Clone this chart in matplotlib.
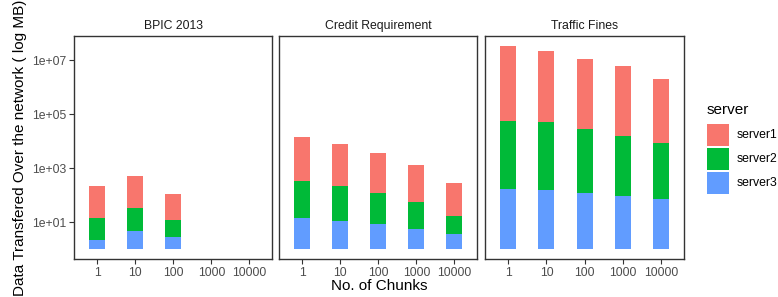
import numpy as np
import matplotlib
matplotlib.use('Agg')
import matplotlib.pyplot as plt
from matplotlib.patches import Rectangle

plt.rcParams['font.family'] = ['Liberation Sans', 'DejaVu Sans']

# ---- data (MB per server, as passed to a log-scaled stacked bar) ----
chunks = ["1", "10", "100", "1000", "10000"]
datasets = ["BPIC 2013", "Credit Requirement", "Traffic Fines"]
servers = ["server1", "server2", "server3"]
colors = ["#F8766D", "#00BA38", "#619CFF"]

bpic_server1 = [15.1, 15.1, 9.2, np.nan, np.nan]
bpic_server2 = [6.9, 6.9, 4.3, np.nan, np.nan]
bpic_server3 = [2.1, 4.9, 2.9, np.nan, np.nan]

credit_server1 = [41.7, 35.5, 30.2, 23.4, 16.6]
credit_server2 = [23.4, 20.0, 13.8, 10.0, 4.6]
credit_server3 = [14.5, 11.2, 8.7, 5.6, 3.7]

traffic_server1 = [603, 457, 417, 389, 251]
traffic_server2 = [324, 331, 234, 166, 117]
traffic_server3 = [170, 155, 120, 93, 72]

values = {
    "BPIC 2013": [bpic_server1, bpic_server2, bpic_server3],
    "Credit Requirement": [credit_server1, credit_server2, credit_server3],
    "Traffic Fines": [traffic_server1, traffic_server2, traffic_server3],
}

yticks = [1, 3, 5, 7]
ytick_labels = ["1e+01", "1e+03", "1e+05", "1e+07"]

# ---- layout ----
W, H = 778, 297
fig = plt.figure(figsize=(W / 100, H / 100), dpi=100)

def rect(x0, y0, x1, y1):
    return [x0 / W, 1 - y1 / H, (x1 - x0) / W, (y1 - y0) / H]

panels = [(74.3, 272.3), (279.3, 477.3), (485.3, 684.0)]
ptop, pbot = 36.3, 259.3

# compute log-space stacks
tops_all = []
for ds in datasets:
    s1, s2, s3 = [np.log10(np.array(v, dtype=float)) for v in values[ds]]
    tops_all.append(np.nanmax(s1 + s2 + s3))
ymax_data = max(tops_all)
pad = 0.05 * ymax_data
ylim = (-pad, ymax_data + pad)

x = np.arange(len(chunks))
bw = 0.42
dark = "#333333"
grey = "#4D4D4D"

for i, ds in enumerate(datasets):
    x0, x1 = panels[i]
    ax = fig.add_axes(rect(x0, ptop, x1, pbot))
    s1, s2, s3 = [np.log10(np.array(v, dtype=float)) for v in values[ds]]
    mask = ~np.isnan(s1)
    ax.bar(x[mask], s3[mask], width=bw, bottom=0, color=colors[2], linewidth=0)
    ax.bar(x[mask], s2[mask], width=bw, bottom=s3[mask], color=colors[1], linewidth=0)
    ax.bar(x[mask], s1[mask], width=bw, bottom=(s3 + s2)[mask], color=colors[0], linewidth=0)
    ax.set_xlim(-0.6, len(chunks) - 0.4)
    ax.set_ylim(*ylim)
    ax.set_xticks(x)
    ax.set_xticklabels(chunks, fontsize=8.8, color=grey)
    ax.set_yticks(yticks)
    if i == 0:
        ax.set_yticklabels(ytick_labels, fontsize=8.8, color=grey)
        ax.tick_params(axis='y', length=3.8, width=0.8, color=dark, pad=2)
    else:
        ax.set_yticklabels([])
        ax.tick_params(axis='y', length=0)
    ax.tick_params(axis='x', length=3.8, width=0.8, color=dark, pad=2)
    for sp in ax.spines.values():
        sp.set_color(dark)
        sp.set_linewidth(1.0)
    ax.set_title(ds, fontsize=8.8, color="#1A1A1A", pad=5)

fig.text(379 / W, 1 - 286 / H, "No. of Chunks", ha='center', va='center', fontsize=11, color='black')
fig.text(20 / W, 1 - 147.8 / H, "Data Transfered Over the network ( log MB)", rotation=90,
         ha='center', va='center', fontsize=11, color='black')

# ---- legend ----
fig.text(706.5 / W, 1 - 110 / H, "server", ha='left', va='center', fontsize=11, color='black')
lax = fig.add_axes([0, 0, 1, 1], facecolor='none')
lax.set_xlim(0, W)
lax.set_ylim(H, 0)
lax.axis('off')
key_tops = [124.0, 148.0, 172.0]
for j, srv in enumerate(servers):
    lax.add_patch(Rectangle((706.7, key_tops[j]), 22.3, 21.7, facecolor=colors[j], edgecolor='none'))
    lax.text(736.5, key_tops[j] + 10.85, srv, ha='left', va='center', fontsize=8.8, color='black')

fig.savefig("out.png", dpi=100)
